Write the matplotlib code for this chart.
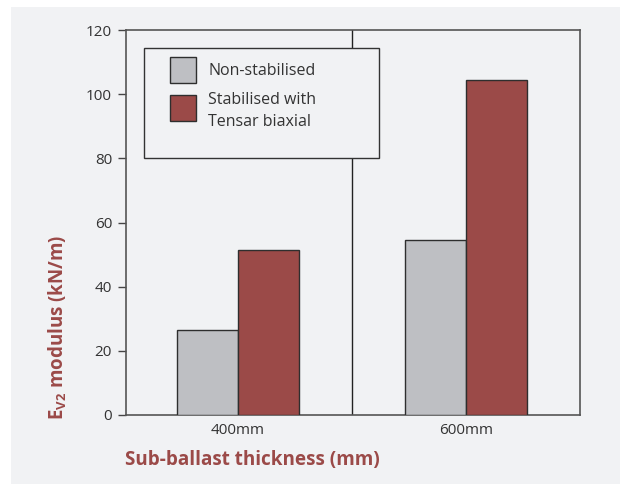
import matplotlib
matplotlib.use("Agg")
import matplotlib.pyplot as plt
from matplotlib.patches import Rectangle
from matplotlib.legend_handler import HandlerPatch, update_from_first_child
import numpy as np

categories = ["400mm", "600mm"]
non_stabilised = [26.5, 54.5]
stabilised = [51.5, 104.5]
series_labels = ["Non-stabilised", "Stabilised with\nTensar biaxial"]
y_ticks = [0, 20, 40, 60, 80, 100, 120]

BG = "#f1f2f4"
GREY = "#bebfc3"
RED = "#9b4a48"
EDGE = "#2e2e2e"
TXT = "#333333"

plt.rcParams["font.family"] = ["Open Sans", "DejaVu Sans"]
plt.rcParams["mathtext.default"] = "regular"

fig = plt.figure(figsize=(6.2, 4.84), dpi=100)
fig.patch.set_facecolor("white")
bg = Rectangle((11 / 620, 0), 1 - 11 / 620, 1 - 7 / 484,
               transform=fig.transFigure, facecolor=BG,
               edgecolor="none", zorder=-10)
fig.patches.append(bg)

ax = fig.add_axes([126 / 620, 69 / 484, 454 / 620, 385 / 484])
ax.set_facecolor(BG)

x = np.arange(len(categories))
w = 0.267
b1 = ax.bar(x - w / 2, non_stabilised, w, color=GREY, edgecolor=EDGE, linewidth=1.0,
            label=series_labels[0], zorder=3)
b2 = ax.bar(x + w / 2, stabilised, w, color=RED, edgecolor=EDGE, linewidth=1.0,
            label=series_labels[1], zorder=3)

ax.axvline(0.5, color="#222222", linewidth=1.0, zorder=1)

ax.set_xlim(-0.49, 1.5)
ax.set_ylim(0, 120)
ax.set_yticks(y_ticks)
ax.set_xticks(x)
ax.set_xticklabels(categories)
ax.tick_params(axis="y", direction="out", length=6, width=1, color="#444444",
               labelsize=11, labelcolor=TXT, pad=4)
ax.tick_params(axis="x", length=0, labelsize=11, labelcolor=TXT, pad=6)
for s in ax.spines.values():
    s.set_color("#555555")
    s.set_linewidth(1.2)

# legend frame
ax.add_patch(Rectangle((18 / 454, (415 - 158) / 385), 235 / 454, 110 / 385,
                       transform=ax.transAxes, facecolor=BG, edgecolor="#333333",
                       linewidth=1.0, zorder=5))


def raised_patch(legend, orig_handle, xdescent, ydescent, width, height, fontsize):
    return Rectangle((-xdescent, -ydescent + 3.0), width, height)


leg = ax.legend(handles=[b1, b2], labels=series_labels,
                handler_map={b2: HandlerPatch(patch_func=raised_patch,
                                              update_func=update_from_first_child)},
                loc="upper left", bbox_to_anchor=(44 / 454, (415 - 57) / 385),
                frameon=False, fontsize=11.5, handlelength=1.63, handleheight=2.13,
                handletextpad=0.75, labelspacing=0.55, borderaxespad=0,
                borderpad=0, labelcolor=TXT)
for t in leg.get_texts():
    t.set_linespacing(1.55)
leg.set_zorder(6)

fig.text(58 / 620, 1 - 420 / 484, r"E$_{V2}$ modulus (kN/m)", rotation=90,
         ha="center", va="bottom", fontsize=13.5, fontweight="bold", color=RED)
fig.text(125 / 620, 1 - 460 / 484, "Sub-ballast thickness (mm)",
         ha="left", va="center", fontsize=13.6, fontweight="bold", color=RED)

fig.savefig("out.png", dpi=100, facecolor=fig.get_facecolor())
